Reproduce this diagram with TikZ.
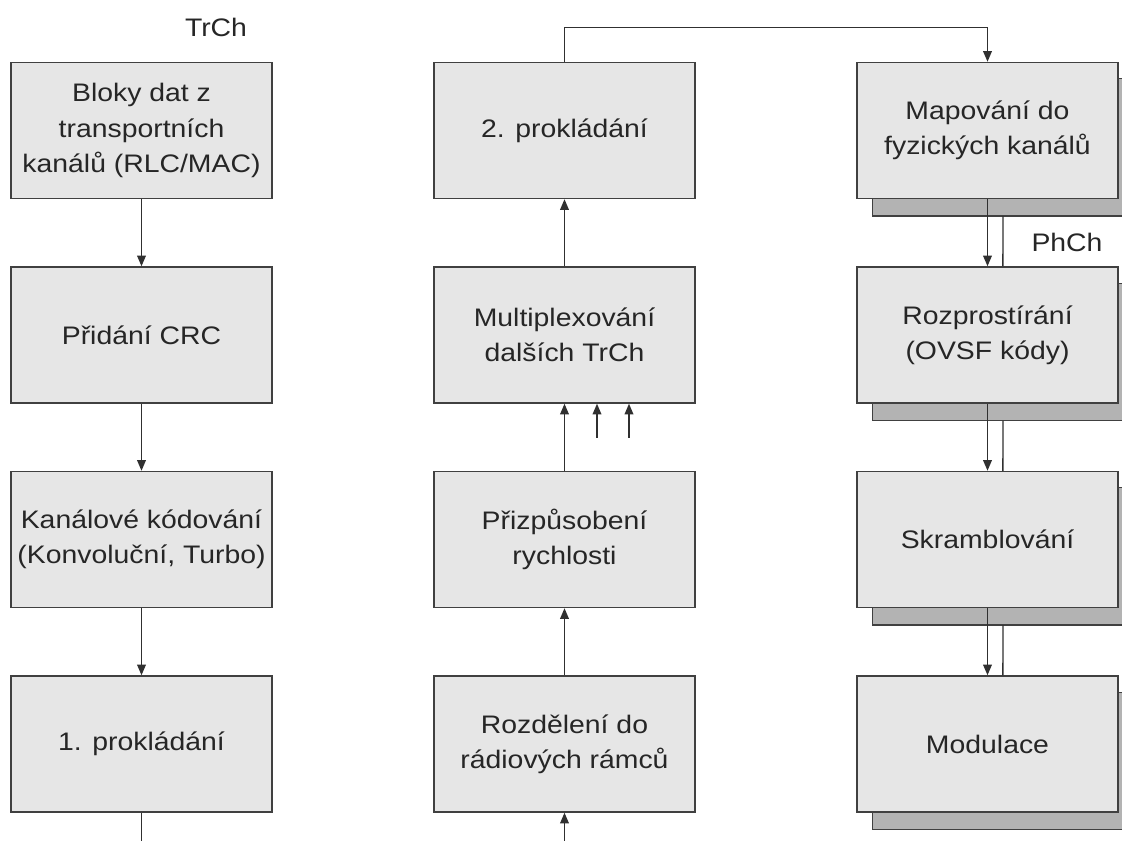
\documentclass[tikz,border=0pt]{standalone}
\usepackage{fontspec}
\setmainfont{Liberation Sans}[FakeStretch=1.12]
\usetikzlibrary{arrows.meta,backgrounds}
\definecolor{boxfill}{HTML}{E6E6E6}
\definecolor{shadowfill}{HTML}{B3B3B3}
\definecolor{bordercol}{HTML}{404040}
\definecolor{textcol}{HTML}{262626}
\definecolor{linecol}{HTML}{303030}
\tikzset{
  stepbox/.style={draw=bordercol, line width=1.1pt, fill=boxfill,
    minimum width=195.75pt, minimum height=102pt, inner sep=0pt,
    align=center, text=textcol, font=\fontsize{19}{26.5}\selectfont},
  lbl/.style={text=textcol, font=\fontsize{19}{26.5}\selectfont, inner sep=0pt},
  conn/.style={draw=linecol, line width=1.1pt},
  arr/.style={conn, -{Triangle[length=8pt,width=6.5pt]}},
  shadowrect/.style={draw=bordercol, line width=1.1pt, fill=shadowfill}
}
\begin{document}
\begin{tikzpicture}[x=0.75pt,y=-0.75pt]
\useasboundingbox (0,0) rectangle (1122,841);
\clip (0,0) rectangle (1122,841);

% left column
\node[stepbox] (L1) at (141.5,130.5) {Bloky dat z\\transportních\\kanálů (RLC/MAC)};
\node[stepbox] (L2) at (141.5,335) {Přidání CRC};
\node[stepbox] (L3) at (141.5,539.5) {Kanálové kódování\\(Konvoluční, Turbo)};
\node[stepbox] (L4) at (141.5,744) {1. prokládání};

% middle column
\node[stepbox] (M1) at (564.5,130.5) {2. prokládání};
\node[stepbox] (M2) at (564.5,335) {Multiplexování\\dalších TrCh};
\node[stepbox] (M3) at (564.5,539.5) {Přizpůsobení\\rychlosti};
\node[stepbox] (M4) at (564.5,744) {Rozdělení do\\rádiových rámců};

% right column
\node[stepbox] (R1) at (987.5,130.5) {Mapování do\\fyzických kanálů};
\node[stepbox] (R2) at (987.5,335) {Rozprostírání\\(OVSF kódy)};
\node[stepbox] (R3) at (987.5,539.5) {Skramblování};
\node[stepbox] (R4) at (987.5,744) {Modulace};

\begin{scope}[on background layer]
\fill[white] (0,0) rectangle (1122,841);
\foreach \n in {R1,R2,R3,R4}{
  \draw[shadowrect] ([shift={(16,17)}]\n.north west) rectangle ([shift={(16,17)}]\n.south east);
}
\end{scope}

% labels
\node[lbl] (trch) at (216,27) {TrCh};
\node[lbl] (phch) at (1067,242) {PhCh};

% left connectors
\draw[arr] (L1) -- (L2);
\draw[arr] (L2) -- (L3);
\draw[arr] (L3) -- (L4);
\coordinate (lend) at (141.5,850);
\draw[conn] (L4) -- (lend);

% middle connectors
\coordinate (mstart) at (564.5,850);
\draw[arr] (mstart) -- (M4);
\draw[arr] (M4) -- (M3);
\draw[arr] (M3) -- (M2);
\draw[arr] (M2) -- (M1);
\coordinate (x1) at (597,438);
\coordinate (x2) at (629,438);
\draw[arr] (x1) -- (x1 |- M2.south);
\draw[arr] (x2) -- (x2 |- M2.south);
\draw[arr] (M1.north) -- ++(0,-34) -| (R1.north);

% right connectors
\draw[arr] (R1) -- (R2);
\draw[arr] (R2) -- (R3);
\draw[arr] (R3) -- (R4);
\draw[conn] ([shift={(15.5,17)}]R1.south) -- ([xshift=11.6pt]R2.north);
\draw[conn] ([shift={(15.5,17)}]R2.south) -- ([xshift=11.6pt]R3.north);
\draw[conn] ([shift={(15.5,17)}]R3.south) -- ([xshift=11.6pt]R4.north);
\end{tikzpicture}
\end{document}
